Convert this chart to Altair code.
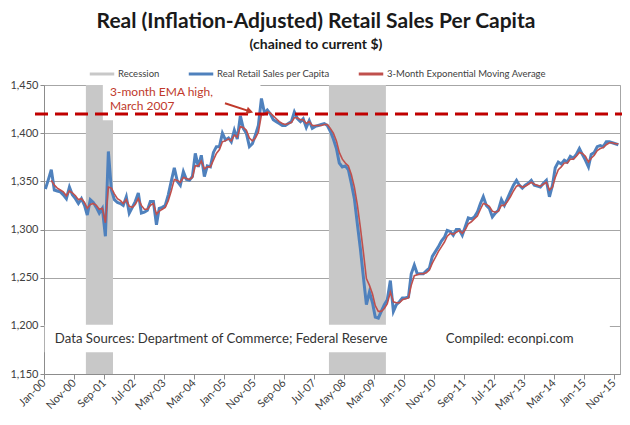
import altair as alt
import pandas as pd

# ---------------- data ----------------
sales = [
    1342, 1352, 1362, 1341, 1340, 1339, 1336, 1332, 1344, 1336,
    1332, 1327, 1332, 1325, 1315, 1331, 1328, 1323, 1317, 1322,
    1293, 1381, 1341, 1331, 1328, 1327, 1325, 1334, 1317, 1323,
    1329, 1338, 1317, 1318, 1320, 1329, 1329, 1305, 1322, 1323,
    1325, 1336, 1350, 1364, 1350, 1346, 1360, 1352, 1351, 1355,
    1379, 1365, 1377, 1355, 1366, 1365, 1380, 1386, 1386, 1400,
    1393, 1395, 1391, 1403, 1394, 1418, 1405, 1400, 1386, 1389,
    1398, 1408, 1436, 1421, 1424, 1420, 1414, 1412, 1410, 1408,
    1408, 1410, 1412, 1422, 1415, 1412, 1415, 1406, 1413, 1405,
    1407, 1408, 1409, 1410, 1408, 1402, 1394, 1384, 1369, 1365,
    1366, 1362, 1348, 1332, 1305, 1280, 1250, 1222, 1235, 1224,
    1209, 1208, 1215, 1222, 1227, 1247, 1215, 1222, 1225, 1229,
    1229, 1230, 1254, 1263, 1254, 1254, 1254, 1257, 1260, 1272,
    1277, 1282, 1288, 1292, 1299, 1298, 1294, 1300, 1300, 1294,
    1303, 1312, 1311, 1313, 1318, 1327, 1334, 1325, 1322, 1313,
    1317, 1320, 1331, 1325, 1332, 1339, 1346, 1351, 1346, 1343,
    1346, 1348, 1351, 1346, 1345, 1344, 1348, 1351, 1334, 1346,
    1364, 1370, 1368, 1372, 1370, 1376, 1374, 1378, 1384, 1378,
    1372, 1365, 1378, 1380, 1386, 1387, 1386, 1391, 1391, 1390,
    1389, 1388,
]
ema = [
    None, None, 1351, 1346, 1343, 1341, 1339, 1335, 1340, 1338,
    1335, 1331, 1332, 1328, 1322, 1326, 1327, 1325, 1321, 1322,
    1307, 1344, 1343, 1337, 1332, 1330, 1327, 1331, 1324, 1323,
    1326, 1332, 1325, 1321, 1321, 1325, 1327, 1316, 1319, 1321,
    1323, 1330, 1340, 1352, 1351, 1349, 1354, 1353, 1352, 1354,
    1366, 1366, 1371, 1363, 1365, 1365, 1372, 1379, 1383, 1391,
    1392, 1394, 1392, 1398, 1396, 1407, 1406, 1403, 1395, 1392,
    1395, 1401, 1419, 1420, 1422, 1421, 1418, 1415, 1412, 1410,
    1409, 1410, 1411, 1416, 1416, 1414, 1414, 1410, 1412, 1408,
    1408, 1408, 1408, 1409, 1409, 1405, 1400, 1392, 1380, 1373,
    1369, 1366, 1357, 1344, 1325, 1302, 1276, 1249, 1242, 1233,
    1221, 1215, 1215, 1218, 1223, 1235, 1225, 1224, 1224, 1227,
    1228, 1229, 1242, 1252, 1253, 1254, 1254, 1255, 1258, 1265,
    1271, 1277, 1282, 1287, 1293, 1296, 1295, 1297, 1299, 1296,
    1300, 1306, 1308, 1311, 1314, 1321, 1327, 1326, 1324, 1319,
    1318, 1319, 1325, 1325, 1329, 1334, 1340, 1345, 1346, 1344,
    1345, 1347, 1349, 1347, 1346, 1345, 1347, 1349, 1341, 1344,
    1354, 1362, 1365, 1369, 1369, 1373, 1373, 1376, 1380, 1379,
    1376, 1370, 1374, 1377, 1382, 1384, 1385, 1388, 1390, 1390,
    1389, 1389,
]
series_names = ["Recession", "Real Retail Sales per Capita",
                "3-Month Exponential Moving Average"]
series_colors = ["#c8c8c8", "#4f81bd", "#c0504d"]

rec_start = ["2001-03-01T00:00:00", "2007-12-01T00:00:00"]
rec_end = ["2001-12-01T00:00:00", "2009-07-01T00:00:00"]

tick_years = [2000, 2000, 2001, 2002, 2003, 2004, 2005, 2005, 2006, 2007,
              2008, 2009, 2010, 2010, 2011, 2012, 2013, 2014, 2015, 2015]
tick_months = [1, 11, 9, 7, 5, 3, 1, 11, 9, 7, 5, 3, 1, 11, 9, 7, 5, 3, 1, 11]
y_ticks = [1150, 1200, 1250, 1300, 1350, 1400, 1450]

ema_high = 1420

# ---------------- tables ----------------
months = pd.date_range("2000-01-01", periods=len(sales), freq="MS")
mid = [(m + pd.Timedelta(days=14)).strftime("%Y-%m-%dT00:00:00") for m in months]

blue_df = pd.DataFrame({"date": mid, "value": sales, "series": series_names[1]})
red_df = pd.DataFrame({"date": mid, "value": ema, "series": series_names[2]}).dropna()
rec_df = pd.DataFrame({"start": rec_start, "end": rec_end, "lo": 1150, "hi": 1450})

# white label boxes (annotation backgrounds)
box_df = pd.DataFrame({
    "start": ["2001-08-20T00:00:00", "2000-01-08T00:00:00"],
    "end": ["2006-01-05T00:00:00", "2015-09-20T00:00:00"],
    "lo": [1413.5, 1172.5],
    "hi": [1451, 1201],
})

notes_df = pd.DataFrame({
    "date": ["2001-11-01T00:00:00", "2001-11-01T00:00:00"],
    "value": [1442.5, 1428],
    "label": ["3-month  EMA high,", "March 2007"],
})
src_df = pd.DataFrame({
    "date": ["2000-04-20T00:00:00", "2011-03-01T00:00:00"],
    "value": [1186, 1186],
    "label": ["Data Sources:  Department of Commerce; Federal Reserve",
              "Compiled: econpi.com"],
})
arrow_df = pd.DataFrame({
    "d1": ["2005-01-10T00:00:00"], "v1": [1431],
    "d2": ["2005-09-20T00:00:00"], "v2": [1422.6],
})

# ---------------- scales / axes ----------------
FONT = "Lato"
xscale = alt.Scale(domain=[alt.DateTime(year=2000, month=1, date=1),
                           alt.DateTime(year=2016, month=1, date=1)])
yscale = alt.Scale(domain=[1150, 1450], nice=False, zero=False)

xaxis = alt.Axis(
    values=[alt.DateTime(year=y, month=m, date=1) for y, m in zip(tick_years, tick_months)],
    tickCount=len(tick_years) + 5,
    format="%b-%y", labelAngle=-45, labelAlign="right", labelBaseline="middle",
    labelFont=FONT, labelFontSize=11, labelColor="#404040", labelPadding=2,
    domainColor="#8c8c8c", tickColor="#8c8c8c", tickSize=5, grid=False,
    title=None, labelOverlap=False, labelFlush=False, labelBound=False,
)
yaxis = alt.Axis(
    values=y_ticks, tickCount=len(y_ticks) + 2, format=",d", labelFont=FONT,
    labelFontSize=11, labelColor="#404040", labelPadding=2, domainColor="#8c8c8c",
    tickColor="#8c8c8c", tickSize=4, grid=True, gridColor="#a6a6a6",
    title=None,
)

color = alt.Color(
    "series:N",
    scale=alt.Scale(domain=series_names, range=series_colors),
    legend=alt.Legend(
        title=None, orient="none", direction="horizontal",
        legendX=44, legendY=-25, symbolType="stroke", symbolStrokeWidth=3,
        symbolSize=600, labelFont=FONT, labelFontSize=9.5, labelColor="#404040",
        columnPadding=22, labelOffset=2,
    ),
)

rec = alt.Chart(rec_df).mark_rect(color="#c8c8c8").encode(
    x=alt.X("start:T", scale=xscale, axis=xaxis),
    x2="end:T",
    y=alt.Y("lo:Q", scale=yscale, axis=yaxis),
    y2="hi:Q",
)
boxes = alt.Chart(box_df).mark_rect(color="white").encode(
    x=alt.X("start:T", axis=xaxis), x2="end:T", y="lo:Q", y2="hi:Q"
)
blue = alt.Chart(blue_df).mark_line(strokeWidth=3).encode(
    x=alt.X("date:T", axis=xaxis), y="value:Q", color=color
)
red = alt.Chart(red_df).mark_line(strokeWidth=1.6).encode(
    x=alt.X("date:T", axis=xaxis), y="value:Q", color=color
)
dash = alt.Chart(pd.DataFrame({"v": [ema_high]})).mark_rule(
    color="#c00000", strokeWidth=3, strokeDash=[13, 7], clip=False
).encode(y="v:Q", x=alt.value(-9), x2=alt.value(591))

notes = alt.Chart(notes_df).mark_text(
    align="left", baseline="middle", font=FONT, fontSize=12, color="#c0392b"
).encode(x="date:T", y="value:Q", text="label:N")

src = alt.Chart(src_df).mark_text(
    align="left", baseline="middle", font=FONT, fontSize=13.2, color="#333333"
).encode(x="date:T", y="value:Q", text="label:N")

arrow = alt.Chart(arrow_df).mark_rule(color="#c0392b", strokeWidth=2).encode(
    x="d1:T", y="v1:Q", x2="d2:T", y2="v2:Q"
)
head = alt.Chart(arrow_df).mark_point(
    shape="triangle-right", filled=True, color="#c0392b", size=60, angle=17, opacity=1
).encode(x="d2:T", y="v2:Q")

chart = alt.layer(rec, boxes, blue, red, dash, notes, src, arrow, head).properties(
    width=576, height=289,
    title=alt.TitleParams(
        text="Real (Inflation-Adjusted) Retail Sales Per Capita",
        subtitle="(chained to current $)",
        font=FONT, fontSize=21, fontWeight="bold", color="#1a1a1a",
        subtitleFont=FONT, subtitleFontSize=14, subtitleFontWeight="bold",
        subtitleColor="#1a1a1a", subtitlePadding=6,
        anchor="middle", frame="group", dx=-16, offset=8,
    ),
    autosize=alt.AutoSizeParams(type="none"),
    padding={"left": 36, "top": 77, "right": 2, "bottom": 43},
).configure_view(stroke="#a6a6a6", strokeWidth=1).configure_axisX(labelOverlap=False)

chart.save("out.html", embed_options={"renderer": "svg", "actions": False})
